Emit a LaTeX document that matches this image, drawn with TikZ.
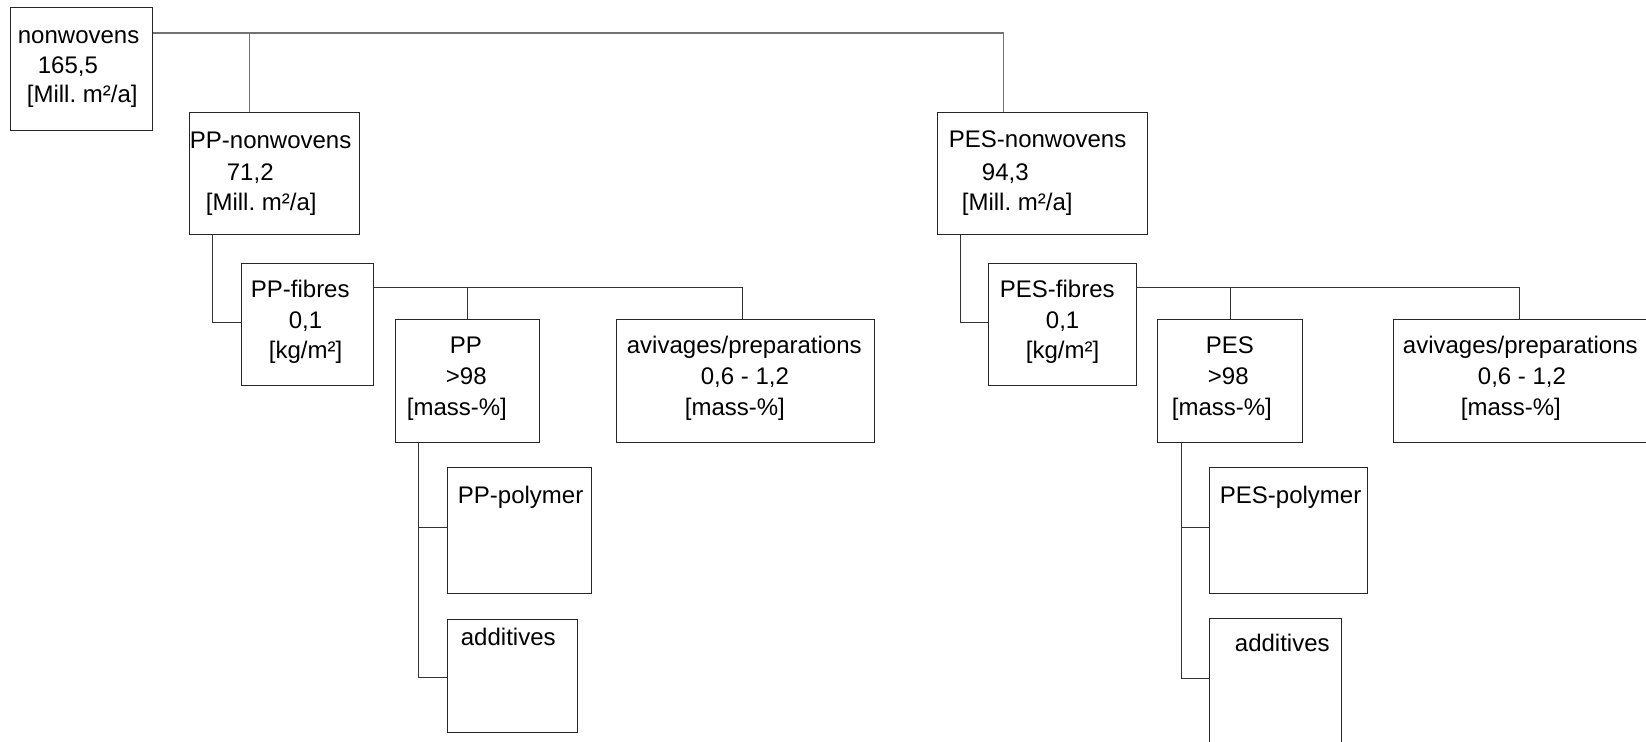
\documentclass[tikz,border=0pt]{standalone}
\usepackage{fontspec}
\setmainfont{Liberation Sans}
\frenchspacing
\begin{document}
\begin{tikzpicture}[x=0.5pt,y=-0.5pt,
  box/.style={draw=black!85,line width=0.55pt,inner sep=0pt,anchor=north west},
  conn/.style={draw=black!80,line width=0.5pt},
  trunk/.style={draw=black!55,line width=0.9pt},
  lbl/.style={anchor=base west,inner sep=0pt,xshift=-0.75pt,font=\fontsize{12pt}{14pt}\selectfont}]
\clip (0,0) rectangle (1646,741);
\useasboundingbox (0,0) rectangle (1646,741);

% boxes: top-left corner, width and height in picture units
\node[box,minimum width=71pt,minimum height=61.5pt] (n0) at (10,7) {};
\node[box,minimum width=85pt,minimum height=61pt] (ppn) at (189,112) {};
\node[box,minimum width=105pt,minimum height=61pt] (pesn) at (937,112) {};
\node[box,minimum width=66pt,minimum height=61pt] (ppf) at (241,263) {};
\node[box,minimum width=74pt,minimum height=61pt] (pesf) at (988,263) {};
\node[box,minimum width=72pt,minimum height=61.5pt] (pp) at (395,319) {};
\node[box,minimum width=129pt,minimum height=61.5pt] (ppav) at (616,319) {};
\node[box,minimum width=72.5pt,minimum height=61.5pt] (pes) at (1157,319) {};
\node[box,minimum width=133pt,minimum height=61.5pt] (pesav) at (1393,319) {};
\node[box,minimum width=72pt,minimum height=63pt] (pppoly) at (447,467) {};
\node[box,minimum width=65pt,minimum height=56.5pt] (ppadd) at (447,619) {};
\node[box,minimum width=79pt,minimum height=63pt] (pespoly) at (1209,467) {};
\node[box,minimum width=66pt,minimum height=66pt] (pesadd) at (1209,618) {};

% box texts
\node[lbl] (n0a) at (19,43) {nonwovens};
\node[lbl] (n0b) at (39,73) {165,5};
\node[lbl] (n0c) at (28,102) {[Mill. m²/a]};
\node[lbl] (ppna) at (191,148) {PP-nonwovens};
\node[lbl] (ppnb) at (228,180) {71,2};
\node[lbl] (ppnc) at (207,210) {[Mill. m²/a]};
\node[lbl] (pesna) at (950,147) {PES-nonwovens};
\node[lbl] (pesnb) at (983,180) {94,3};
\node[lbl] (pesnc) at (963,210) {[Mill. m²/a]};
\node[lbl] (ppfa) at (252,297) {PP-fibres};
\node[lbl] (ppfb) at (290,328) {0,1};
\node[lbl] (ppfc) at (270,358) {[kg/m²]};
\node[lbl] (pesfa) at (1001,297) {PES-fibres};
\node[lbl] (pesfb) at (1047,328) {0,1};
\node[lbl] (pesfc) at (1027,358) {[kg/m²]};
\node[lbl] (ppa) at (451,353) {PP};
\node[lbl] (ppb) at (447,384) {>98};
\node[lbl] (ppc) at (408,415) {[mass-\%]};
\node[lbl] (ppava) at (628,353) {avivages/preparations};
\node[lbl] (ppavb) at (702,384) {0,6 - 1,2};
\node[lbl] (ppavc) at (686,415) {[mass-\%]};
\node[lbl] (pesa) at (1207,353) {PES};
\node[lbl] (pesb) at (1209,384) {>98};
\node[lbl] (pesc) at (1173,415) {[mass-\%]};
\node[lbl] (pesava) at (1404,353) {avivages/preparations};
\node[lbl] (pesavb) at (1479,384) {0,6 - 1,2};
\node[lbl] (pesavc) at (1462,415) {[mass-\%]};
\node[lbl] (pppolya) at (459,503) {PP-polymer};
\node[lbl] (ppadda) at (462,645) {additives};
\node[lbl] (pespolya) at (1221,503) {PES-polymer};
\node[lbl] (pesadda) at (1236,651) {additives};

% top level
\draw[trunk] ([shift={(0,26)}]n0.north east) -| ([shift={(-39,0)}]pesn.north);
\draw[trunk] ([shift={(-25,0)}]ppn.north) -- ++(0,-79);

% nonwovens to fibres
\draw[conn] ([shift={(-62,0)}]ppn.south) |- ([shift={(0,-2)}]ppf.west);
\draw[conn] ([shift={(-82,0)}]pesn.south) |- ([shift={(0,-2)}]pesf.west);

% fibres to components
\draw[conn] ([shift={(0,24.5)}]ppf.north east) -| ([shift={(-3,0)}]ppav.north);
\draw[conn] (pp.north) -- ++(0,-32.5);
\draw[conn] ([shift={(0,24.5)}]pesf.north east) -| ([shift={(-7,0)}]pesav.north);
\draw[conn] (pes.north) -- ++(0,-32.5);

% polymer and additives
\draw[conn] ([shift={(-49,0)}]pp.south) |- ([shift={(0,1.5)}]ppadd.west);
\draw[conn] ([shift={(0,-3)}]pppoly.west) -- ++(-29,0);
\draw[conn] ([shift={(-48.5,0)}]pes.south) |- ([shift={(0,-6)}]pesadd.west);
\draw[conn] ([shift={(0,-3)}]pespoly.west) -- ++(-28,0);
\end{tikzpicture}
\end{document}
